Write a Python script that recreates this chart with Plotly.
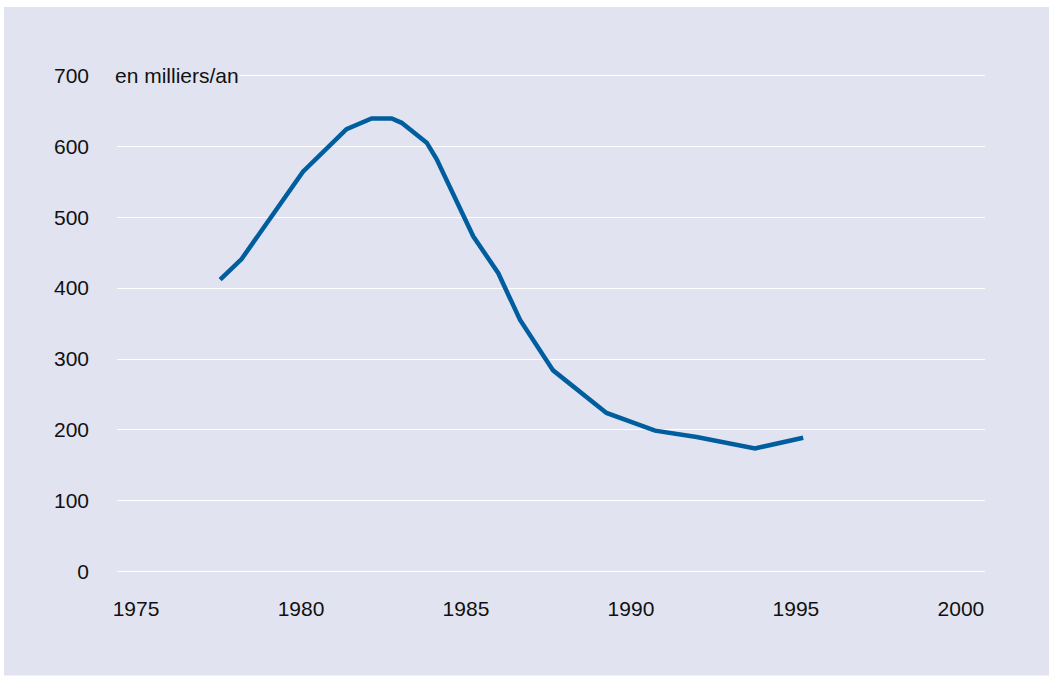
import plotly.graph_objects as go

# Data (thousands per year)
years = [1977.55, 1978.20, 1980.06, 1981.38, 1982.14, 1982.75, 1983.05, 1983.81,
         1984.11, 1985.22, 1985.98, 1986.64, 1987.64, 1989.26, 1990.73, 1991.99,
         1993.76, 1995.22]
values = [412, 441, 564, 624, 639, 639, 633, 605,
          582, 473, 421, 355, 284, 224, 199, 190,
          174, 189]
x_ticks = [1975, 1980, 1985, 1990, 1995, 2000]
y_ticks = [0, 100, 200, 300, 400, 500, 600, 700]
unit_label = "en milliers/an"

BG = "#e1e4f0"
LINE = "#005e9e"
FONT = "Liberation Sans, Arial, sans-serif"

fig = go.Figure()
fig.add_trace(go.Scatter(x=years, y=values, mode="lines",
                         line=dict(color=LINE, width=4.5), showlegend=False,
                         hoverinfo="skip"))

fig.update_layout(
    width=1049, height=677,
    margin=dict(l=117, r=64, t=54, b=90.5),
    paper_bgcolor=BG, plot_bgcolor=BG,
    font=dict(family=FONT, size=21, color="#111111"),
    xaxis=dict(range=[1974.424, 2000.73], tickvals=x_ticks,
               showgrid=False, zeroline=False, showline=False,
               ticks="", ticklabelstandoff=8, fixedrange=True),
    yaxis=dict(range=[-20, 730], tickvals=y_ticks,
               showgrid=True, gridcolor="white", gridwidth=1.3,
               zeroline=False, showline=False, ticks="",
               ticklabelstandoff=27, fixedrange=True),
    annotations=[dict(text=unit_label, xref="paper", yref="y",
                      x=-0.0035, y=700, xanchor="left", yanchor="middle",
                      showarrow=False, font=dict(family=FONT, size=21, color="#111111"),
                      bgcolor=BG, borderpad=0)],
    shapes=[
        dict(type="rect", xref="paper", yref="paper", x0=-0.2, x1=1.2,
             y0=1.0883, y1=1.3, fillcolor="white", line=dict(width=0), layer="above"),
        dict(type="rect", xref="paper", yref="paper", x0=-0.2, x1=-0.1302,
             y0=-0.3, y1=1.3, fillcolor="white", line=dict(width=0), layer="above"),
        dict(type="rect", xref="paper", yref="paper", x0=-0.2, x1=1.2,
             y0=-0.3, y1=-0.1681, fillcolor="white", line=dict(width=0), layer="above"),
    ],
)

fig.write_html("out.html", config={"displayModeBar": False},
               post_script="document.body.style.margin='0';document.body.style.overflow='hidden';")
